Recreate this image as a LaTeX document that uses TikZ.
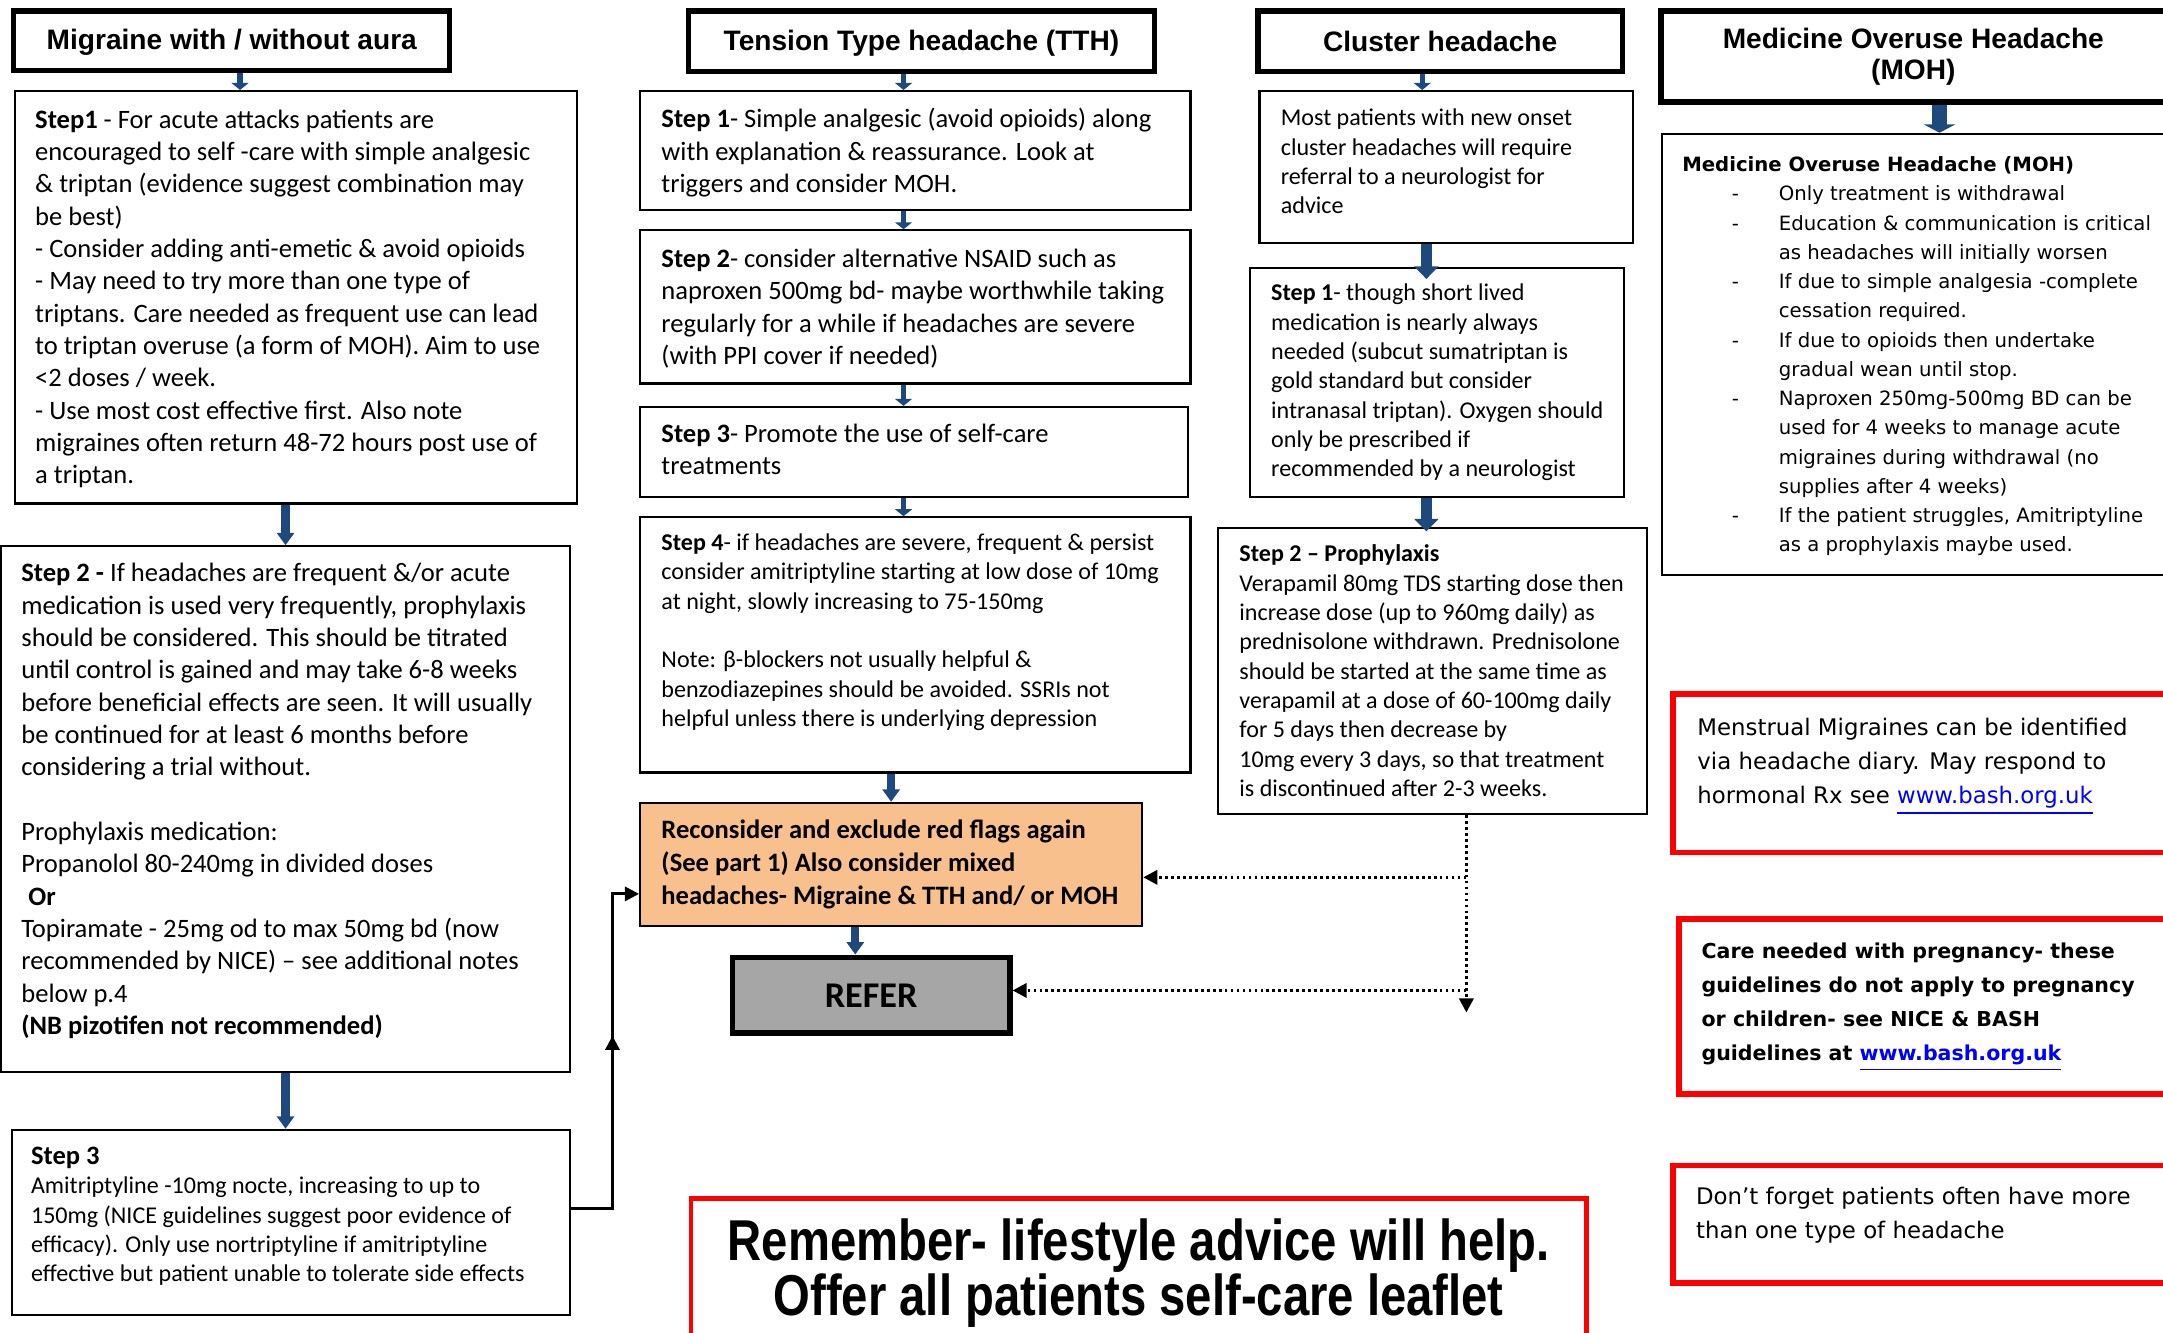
\documentclass[tikz,border=0pt]{standalone}
\usepackage{fontspec}
\setmainfont{Carlito}
\newfontfamily\headfont{Liberation Sans}
\newfontfamily\verdfont{DejaVu Sans}
\newfontfamily\narrowfont[FakeStretch=0.82]{Liberation Sans}
\usetikzlibrary{arrows.meta}
\usetikzlibrary{calc}
\usetikzlibrary{fit}
\usetikzlibrary{decorations.markings}

\definecolor{arrowblue}{RGB}{31,73,125}
\definecolor{reconfill}{RGB}{248,192,140}
\definecolor{refergray}{RGB}{166,166,166}
\definecolor{linkblue}{RGB}{0,0,255}

\newlength{\pxu}
\setlength{\pxu}{0.138mm}
\newcommand{\weblink}[1]{\textcolor{linkblue}{\underline{#1}}}
\newcommand{\mohitem}[1]{\makebox[70\pxu][l]{\hspace*{36\pxu}#1}}

\tikzset{
  stepbox/.style={draw, line width=0.6pt, inner sep=0pt},
  headbox/.style={draw, line width=1.5pt, inner sep=0pt},
  headtxt/.style={inner sep=0pt, align=center,
    font=\headfont\bfseries\fontsize{8}{9}\selectfont},
  notebox/.style={draw=red, line width=1.6pt, inner sep=0pt},
  bodytxt/.style={anchor=north west, inner sep=0pt, align=left,
    font=\fontsize{7.56}{9.2}\selectfont},
  smalltxt/.style={bodytxt, font=\fontsize{6.85}{8.35}\selectfont},
  mohtxt/.style={bodytxt, font=\verdfont\fontsize{5.6}{8.33}\selectfont},
  notetxt/.style={bodytxt, font=\verdfont\fontsize{6.5}{9.6}\selectfont},
  flow/.style={draw=arrowblue, line width=1.5pt, -{Triangle[length=2pt,width=4.8pt]}},
  midflow/.style={draw=arrowblue, line width=2.4pt, -{Triangle[length=3.5pt,width=4.8pt]}},
  bigflow/.style={draw=arrowblue, line width=3pt, -{Triangle[length=3.6pt,width=6.8pt]}},
  mohflow/.style={draw=arrowblue, line width=4.2pt, -{Triangle[length=2.4pt,width=9pt]}},
  dotarrow/.style={draw, line width=0.9pt, dash pattern=on 0.8pt off 0.9pt,
    -{Triangle[length=4pt,width=4pt]}},
  backarrow/.style={draw, line width=0.8pt, -{Triangle[length=4pt,width=4pt]},
    postaction={decorate}, decoration={markings,
      mark=at position 0.56 with {\arrow{Triangle[length=4pt,width=4pt]}}}}
}

\begin{document}
\begin{tikzpicture}[x=0.138mm, y=-0.138mm]
    \useasboundingbox (0,0) rectangle (1568,966);

    % headers
    \node[headbox, fit={(10,8) (326,51)}] (hmig) {};
    \node[headtxt] (hmigt) at ($(hmig.center)+(0,1)$) {Migraine with / without aura};
    \node[headbox, fit={(499,8) (837,52)}] (htth) {};
    \node[headtxt] (httht) at ($(htth.center)+(0,1)$) {Tension Type headache (TTH)};
    \node[headbox, fit={(912,8) (1176,52)}] (hclu) {};
    \node[headtxt] (hclut) at (hclu.center) {Cluster headache};
    \node[headbox, fit={(1204,8) (1578,74)}] (hmoh) {};
    \node[headtxt] (hmoht) at ($(hmoh.center)+(-4,0)$) {Medicine Overuse Headache\\(MOH)};

    % migraine column
    \node[stepbox, fit={(11,66) (418,365)}] (mig1) {};
    \node[bodytxt] (mig1t) at (25,79) {\textbf{Step1} - For acute attacks patients are\\
        encouraged to self -care with simple analgesic\\
        \& triptan (evidence suggest combination may\\
        be best)\\
        - Consider adding anti-emetic \& avoid opioids\\
        - May need to try more than one type of\\
        triptans. Care needed as frequent use can lead\\
        to triptan overuse (a form of MOH). Aim to use\\
        <2 doses / week.\\
        - Use most cost effective first. Also note\\
        migraines often return 48-72 hours post use of\\
        a triptan.};

    \node[stepbox, fit={(1,396) (413,777)}] (mig2) {};
    \node[bodytxt] (mig2t) at (15,408) {\textbf{Step 2 -} If headaches are frequent \&/or acute\\
        medication is used very frequently, prophylaxis\\
        should be considered. This should be titrated\\
        until control is gained and may take 6-8 weeks\\
        before beneficial effects are seen. It will usually\\
        be continued for at least 6 months before\\
        considering a trial without.\\[9.2pt]
        Prophylaxis medication:\\
        Propanolol 80-240mg in divided doses\\
        \hspace*{0.7mm}\textbf{Or}\\
        Topiramate - 25mg od to max 50mg bd (now\\
        recommended by NICE) – see additional notes\\
        below p.4\\
        \textbf{(NB pizotifen not recommended)}};

    \node[stepbox, fit={(9,819) (413,953)}] (mig3) {};
    \node[smalltxt] (mig3t) at (22,831) {{\fontsize{7.56}{9.2}\selectfont\textbf{Step 3}}\\
        Amitriptyline -10mg nocte, increasing to up to\\
        150mg (NICE guidelines suggest poor evidence of\\
        efficacy). Only use nortriptyline if amitriptyline\\
        effective but patient unable to tolerate side effects};

    % tension type column
    \node[stepbox, fit={(464,66) (863,152)}] (tth1) {};
    \node[bodytxt] (tth1t) at (479,78) {\textbf{Step 1}- Simple analgesic (avoid opioids) along\\
        with explanation \& reassurance. Look at\\
        triggers and consider MOH.};

    \node[stepbox, fit={(464,167) (863,278)}] (tth2) {};
    \node[bodytxt] (tth2t) at (479,180) {\textbf{Step 2}- consider alternative NSAID such as\\
        naproxen 500mg bd- maybe worthwhile taking\\
        regularly for a while if headaches are severe\\
        (with PPI cover if needed)};

    \node[stepbox, fit={(464,295) (861,360)}] (tth3) {};
    \node[bodytxt] (tth3t) at (479,307) {\textbf{Step 3}- Promote the use of self-care\\
        treatments};

    \node[stepbox, fit={(464,375) (863,560)}] (tth4) {};
    \node[smalltxt] (tth4t) at (479,386.5) {\textbf{Step 4}- if headaches are severe, frequent \& persist\\
        consider amitriptyline starting at low dose of 10mg\\
        at night, slowly increasing to 75-150mg\\[8.35pt]
        Note: β-blockers not usually helpful \&\\
        benzodiazepines should be avoided. SSRIs not\\
        helpful unless there is underlying depression};

    \node[stepbox, fill=reconfill, fit={(464,582) (828,671)}] (recon) {};
    \node[bodytxt, font=\bfseries\fontsize{7.56}{9.4}\selectfont] (recont) at (479,594)
        {Reconsider and exclude red flags again\\
        (See part 1) Also consider mixed\\
        headaches- Migraine \& TTH and/ or MOH};

    \node[stepbox, line width=1.6pt, fill=refergray, fit={(531,694) (732,749)}] (refer) {};
    \node[inner sep=0pt, font=\bfseries\fontsize{10.3}{12}\selectfont] (refert) at (refer.center) {REFER};

    % cluster column
    \node[stepbox, fit={(913,66) (1184,176)}] (clu0) {};
    \node[smalltxt] (clu0t) at (928,78.5) {Most patients with new onset\\
        cluster headaches will require\\
        referral to a neurologist for\\
        advice};

    \node[stepbox, fit={(906,194) (1177,360)}] (clu1) {};
    \node[smalltxt] (clu1t) at (921,205.5) {\textbf{Step 1}- though short lived\\
        medication is nearly always\\
        needed (subcut sumatriptan is\\
        gold standard but consider\\
        intranasal triptan). Oxygen should\\
        only be prescribed if\\
        recommended by a neurologist};

    \node[stepbox, fit={(883,383) (1194,590)}] (clu2) {};
    \node[smalltxt] (clu2t) at (898,394.5) {\textbf{Step 2 – Prophylaxis}\\
        Verapamil 80mg TDS starting dose then\\
        increase dose (up to 960mg daily) as\\
        prednisolone withdrawn. Prednisolone\\
        should be started at the same time as\\
        verapamil at a dose of 60-100mg daily\\
        for 5 days then decrease by\\
        10mg every 3 days, so that treatment\\
        is discontinued after 2-3 weeks.};

    % overuse column and notes
    \node[stepbox, fit={(1205,97) (1578,417)}] (moh) {};
    \node[mohtxt] (moht) at (1219,113) {\textbf{Medicine Overuse Headache (MOH)}\\
        \mohitem{-}Only treatment is withdrawal\\
        \mohitem{-}Education \& communication is critical\\
        \mohitem{}as headaches will initially worsen\\
        \mohitem{-}If due to simple analgesia -complete\\
        \mohitem{}cessation required.\\
        \mohitem{-}If due to opioids then undertake\\
        \mohitem{}gradual wean until stop.\\
        \mohitem{-}Naproxen 250mg-500mg BD can be\\
        \mohitem{}used for 4 weeks to manage acute\\
        \mohitem{}migraines during withdrawal (no\\
        \mohitem{}supplies after 4 weeks)\\
        \mohitem{-}If the patient struggles, Amitriptyline\\
        \mohitem{}as a prophylaxis maybe used.};

    \node[notebox, fit={(1213,503) (1578,618)}] (note1) {};
    \node[notetxt] (note1t) at (1230,520.4) {Menstrual Migraines can be identified\\
        via headache diary. May respond to\\
        hormonal Rx see \weblink{www.bash.org.uk}};

    \node[notebox, fit={(1217,666) (1578,793)}] (note2) {};
    \node[notetxt, font=\verdfont\bfseries\fontsize{5.85}{9.66}\selectfont] (note2t) at (1233,683)
        {Care needed with pregnancy- these\\
        guidelines do not apply to pregnancy\\
        or children- see NICE \& BASH\\
        guidelines at \weblink{www.bash.org.uk}};

    \node[notebox, fit={(1213,845) (1578,930)}] (note3) {};
    \node[notetxt] (note3t) at (1229,860.4) {Don’t forget patients often have more\\
        than one type of headache};

    \node[notebox, line width=1.3pt, fit={(501,869) (1150,969)}] (remember) {};
    \node[inner sep=0pt, align=center, font=\narrowfont\bfseries\fontsize{16.4}{15.7}\selectfont]
        (remembert) at ($(remember.center)+(0,4)$)
        {Remember- lifestyle advice will help.\\Offer all patients self-care leaflet};

    % blue arrows
    \draw[flow] ($(hmig.south)+(6,0)$) -- ($(mig1.north)+(-40.5,0)$);
    \draw[flow] ($(htth.south)+(-13,0)$) -- ($(tth1.north)+(-8.5,0)$);
    \draw[flow] ($(hclu.south)+(-13,0)$) -- ($(clu0.north)+(-17.5,0)$);
    \draw[mohflow] ($(hmoh.south)+(15,0)$) -- ($(moh.north)+(14.5,0)$);

    \draw[midflow] (mig2.north |- mig1.south) -- (mig2.north);
    \draw[midflow] (mig2.south) -- (mig2.south |- mig3.north);

    \draw[flow] ($(tth1.south)+(-8.5,0)$) -- ($(tth2.north)+(-8.5,0)$);
    \draw[flow] ($(tth2.south)+(-8.5,0)$) -- ($(tth3.north)+(-7.5,0)$);
    \draw[flow] ($(tth3.south)+(-7.5,0)$) -- ($(tth4.north)+(-8.5,0)$);
    \draw[midflow] (recon.north |- tth4.south) -- (recon.north);
    \draw[midflow] ($(recon.south)+(-26,0)$) -- ($(refer.north)+(-11.5,0)$);

    \draw[bigflow] ($(clu0.south)+(-14.5,0)$) -- ($(clu1.north)+(-7.5,9)$);
    \draw[bigflow] ($(clu1.south)+(-7.5,0)$) -- ($(clu2.north)+(-4.5,3)$);

    % dotted links back from cluster
    \coordinate (dtop) at ($(clu2.south)+(24.5,0)$);
    \coordinate (dbot) at (1063,734);
    \coordinate (dmid1) at (1063,636);
    \coordinate (dmid2) at (1063,718);
    \draw[dotarrow] (dtop) -- (dbot);
    \draw[dotarrow] (dmid1) -- (dmid1 -| recon.east);
    \draw[dotarrow] (dmid2) -- (dmid2 -| refer.east);

    % step 3 back up to reconsider
    \coordinate (bend) at (444,648);
    \draw[backarrow] ($(mig3.east)+(0,-10)$) -| (bend) -- (bend -| recon.west);
\end{tikzpicture}
\end{document}
